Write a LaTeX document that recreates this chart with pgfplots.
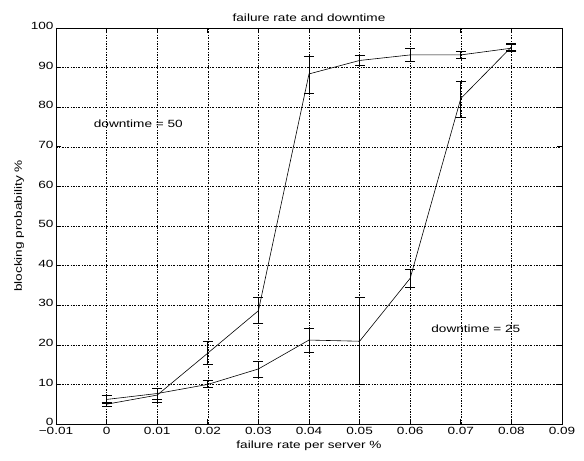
\documentclass[border=0pt]{standalone}
\usepackage{fontspec}
\setmainfont{Liberation Sans}[FakeStretch=1.3]
\usepackage{pgfplots}
\usepackage{pgfplotstable}
\pgfplotsset{compat=1.18}

% x, y, upper and lower error for each downtime
\pgfplotstableread{
x     y     ep   em
0     5.0   0.6  0.5
0.01  7.3   1.7  1.8
0.02  17.9  2.9  2.8
0.03  28.6  3.3  3.2
0.04  88.4  4.5  4.9
0.05  91.8  1.4  1.1
0.06  93.2  1.6  1.7
0.07  93.2  0.8  0.9
0.08  94.9  1.1  0.7
}\dtfifty

\pgfplotstableread{
x     y     ep   em
0     6.2   1.0  1.0
0.01  7.7   1.3  1.4
0.02  10.0  1.0  0.7
0.03  13.9  2.0  2.1
0.04  21.2  3.0  3.1
0.05  20.9  11.2 10.9
0.06  36.8  2.3  2.4
0.07  82.2  4.3  4.7
0.08  95.2  0.9  0.8
}\dttwentyfive

\begin{document}
\begin{tikzpicture}
\begin{axis}[
  scale only axis,
  width=506bp, height=396bp,
  xmin=-0.01, xmax=0.09,
  ymin=0, ymax=100,
  xtick={-0.01,0,0.01,0.02,0.03,0.04,0.05,0.06,0.07,0.08,0.09},
  xticklabels={−0.01,0,0.01,0.02,0.03,0.04,0.05,0.06,0.07,0.08,0.09},
  scaled x ticks=false,
  ytick distance=10,
  /pgf/number format/assume math mode=true,
  tick align=inside,
  major tick length=5bp,
  xtick pos=both, ytick pos=both,
  grid=major,
  grid style={black, line width=0.5pt, dash pattern=on 2pt off 1.5pt on 0.6pt off 1.5pt},
  axis line style={line width=0.7pt},
  tick style={black, line width=0.6pt},
  tick label style={font=\fontsize{10.5}{12}\selectfont},
  xticklabel style={yshift=0pt},
  yticklabel style={xshift=1pt, yshift=2pt},
  label style={font=\fontsize{10.5}{12}\selectfont},
  title style={font=\fontsize{10.5}{12}\selectfont, yshift=-3pt},
  title={failure rate and downtime},
  xlabel={failure rate per server \%},
  ylabel={blocking probability \%},
  xlabel style={yshift=1pt},
  ylabel style={yshift=0pt},
]
\addplot[black, line width=0.6pt, no marks,
  error bars/.cd, y dir=both, y explicit,
  error bar style={black, line width=0.6pt},
  error mark options={rotate=90, mark size=5bp, black, line width=0.6pt}]
  table[x=x, y=y, y error plus=ep, y error minus=em] {\dtfifty};
\addplot[black, line width=0.6pt, no marks,
  error bars/.cd, y dir=both, y explicit,
  error bar style={black, line width=0.6pt},
  error mark options={rotate=90, mark size=5bp, black, line width=0.6pt}]
  table[x=x, y=y, y error plus=ep, y error minus=em] {\dttwentyfive};

\node[anchor=west, font=\fontsize{10.5}{12}\selectfont] at (axis cs:-0.0032,75.8) {downtime = 50};
\node[anchor=west, font=\fontsize{10.5}{12}\selectfont] at (axis cs:0.0635,24) {downtime = 25};

\path (rel axis cs:0,0) ++(-56bp,-37bp) coordinate (bbsw);
\path (rel axis cs:0,0) ++(528bp,424bp) coordinate (bbne);
\end{axis}
\useasboundingbox (bbsw) rectangle (bbne);
\end{tikzpicture}
\end{document}
